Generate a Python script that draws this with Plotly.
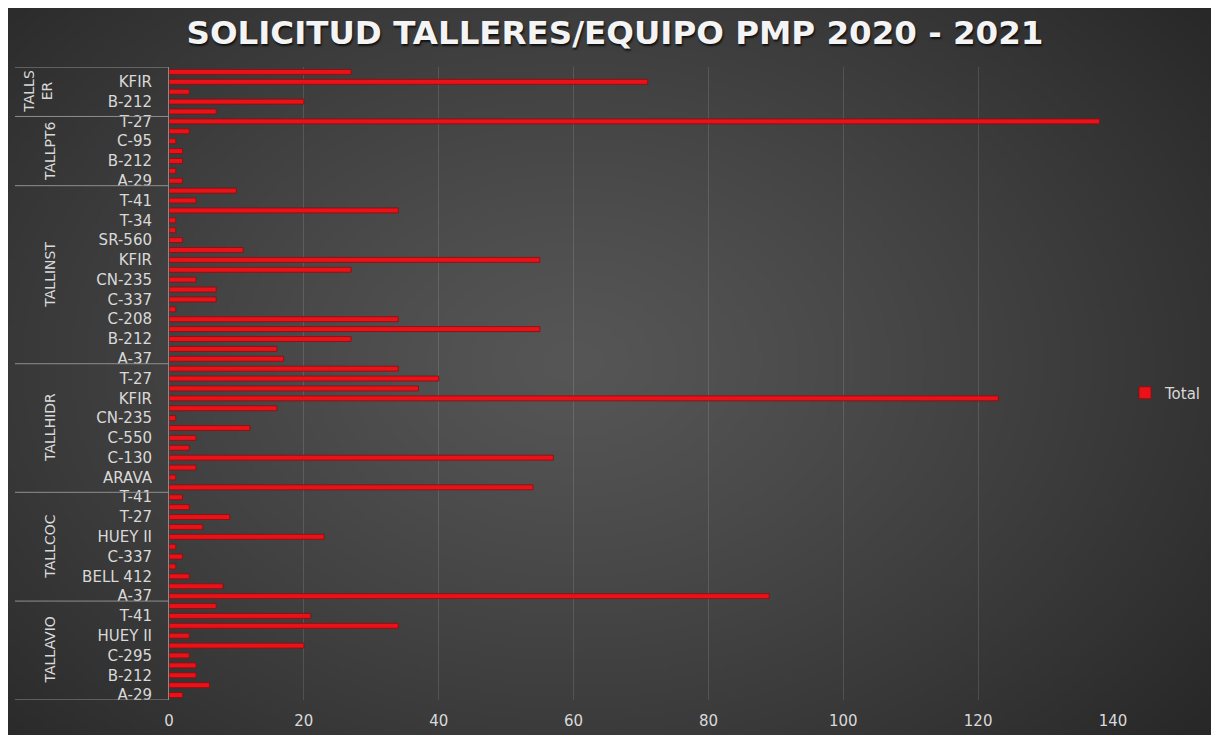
import base64
import struct
import zlib

import numpy as np
import plotly.graph_objects as go

# Groups from bottom to top (Excel pivot order), equipment alphabetical bottom -> top
GROUPS = ["TALLAVIO", "TALLCOC", "TALLHIDR", "TALLINST", "TALLPT6", "TALLSER"]
GROUP_TITLES = ["TALLAVIO", "TALLCOC", "TALLHIDR", "TALLINST", "TALLPT6", "TALLS<br>ER"]

TALLAVIO_EQUIPOS = ["A-29", "A-37", "B-212", "C-130", "C-295", "C-337",
                    "HUEY II", "KFIR", "T-41", "UH-60"]
TALLAVIO_TOTAL = [2, 6, 4, 4, 3, 20, 3, 34, 21, 7]

TALLCOC_EQUIPOS = ["A-37", "B-212", "BELL 412", "C-130", "C-337", "CN-235",
                   "HUEY II", "KFIR", "T-27", "T-34", "T-41"]
TALLCOC_TOTAL = [89, 8, 3, 1, 2, 1, 23, 5, 9, 3, 2]

TALLHIDR_EQUIPOS = ["A-37", "ARAVA", "B-212", "C-130", "C-295", "C-550", "C-95",
                    "CN-235", "HUEY II", "KFIR", "SR-560", "T-27", "T-41"]
TALLHIDR_TOTAL = [54, 1, 4, 57, 3, 4, 12, 1, 16, 123, 37, 40, 34]

TALLINST_EQUIPOS = ["A-37", "ARAVA", "B-212", "C-130", "C-208", "C-295", "C-337",
                    "C-550", "CN-235", "HUEY II", "KFIR", "KING AIR", "SR-560",
                    "T-27", "T-34", "T-37", "T-41", "UH-60"]
TALLINST_TOTAL = [17, 16, 27, 55, 34, 1, 7, 7, 4, 27, 55, 11, 2, 1, 1, 34, 4, 10]

TALLPT6_EQUIPOS = ["A-29", "A-37", "B-212", "C-208", "C-95", "KING AIR", "T-27"]
TALLPT6_TOTAL = [2, 1, 2, 2, 1, 3, 138]

TALLSER_EQUIPOS = ["A-37", "B-212", "C-130", "KFIR", "T-27"]
TALLSER_TOTAL = [7, 20, 3, 71, 27]

GROUP_EQUIPOS = [TALLAVIO_EQUIPOS, TALLCOC_EQUIPOS, TALLHIDR_EQUIPOS,
                 TALLINST_EQUIPOS, TALLPT6_EQUIPOS, TALLSER_EQUIPOS]
GROUP_TOTALS = [TALLAVIO_TOTAL, TALLCOC_TOTAL, TALLHIDR_TOTAL,
                TALLINST_TOTAL, TALLPT6_TOTAL, TALLSER_TOTAL]

X_TICKS = [0, 20, 40, 60, 80, 100, 120, 140]

W, H = 1219, 735
# the page puts the figure 8px in from the top-left corner, so lay out in
# figure pixels = reference pixels - 8
OFF = 8
PLOT_L, PLOT_R, PLOT_T, PLOT_B = 169 - OFF, 1113 - OFF, 67 - OFF, 700 - OFF
LABEL_COLOR = "#d9d9d9"
FONT = "DejaVu Sans"


def _background_png(w=305, h=184):
    """Dark radial gradient like the Excel chart style, as a data URI."""
    yy, xx = np.mgrid[0:h, 0:w]
    cx, cy = 0.46 * w, 0.48 * h
    d = np.sqrt(((xx - cx) / (0.66 * w)) ** 2 + ((yy - cy) / (0.78 * h)) ** 2)
    t = np.clip(d, 0, 1)
    v = 86 - (86 - 40) * t ** 1.2
    img = np.repeat(v[..., None], 3, axis=2).astype(np.uint8)
    raw = b"".join(b"\x00" + img[r].tobytes() for r in range(h))

    def chunk(tag, data):
        return (struct.pack(">I", len(data)) + tag + data
                + struct.pack(">I", zlib.crc32(tag + data) & 0xFFFFFFFF))

    png = (b"\x89PNG\r\n\x1a\n"
           + chunk(b"IHDR", struct.pack(">IIBBBBB", w, h, 8, 2, 0, 0, 0))
           + chunk(b"IDAT", zlib.compress(raw, 9))
           + chunk(b"IEND", b""))
    return "data:image/png;base64," + base64.b64encode(png).decode()


# flatten groups into rows
ys, xs, names, custom = [], [], [], []
group_bounds = []
i = 0
for g, eq, tot in zip(GROUPS, GROUP_EQUIPOS, GROUP_TOTALS):
    start = i
    for name, val in zip(eq, tot):
        ys.append(i)
        xs.append(val)
        names.append(name)
        custom.append([g, name])
        i += 1
    group_bounds.append((start, i - 1))
n_rows = i

pw = PLOT_R - PLOT_L
ph = PLOT_B - PLOT_T


def px_x(px):
    """reference pixel x -> paper coordinate"""
    return (px - OFF - PLOT_L) / pw


def px_y(py):
    """reference pixel y -> paper coordinate"""
    return (PLOT_B - (py - OFF)) / ph


fig = go.Figure()
fig.add_trace(go.Bar(
    x=xs, y=ys,
    orientation="h",
    width=0.5,
    marker=dict(color="#ea1219", line=dict(color="#8e0b0b", width=0.8)),
    customdata=custom,
    hovertemplate="%{customdata[0]} / %{customdata[1]}<br>Total: %{x}<extra></extra>",
    name="Total",
    showlegend=True,
))

# group divider lines and group labels on the left
line_x0 = px_x(15)
for k, (s, e) in enumerate(group_bounds):
    fig.add_shape(type="line", xref="paper", yref="y",
                  x0=line_x0, x1=0, y0=s - 0.5, y1=s - 0.5,
                  line=dict(color="#8f8f8f", width=1))
    fig.add_annotation(xref="paper", yref="y", xanchor="center", yanchor="middle",
                       x=px_x(38 if "<br>" in GROUP_TITLES[k] else 50),
                       y=(s + e) / 2,
                       text=GROUP_TITLES[k], textangle=-90, showarrow=False,
                       font=dict(family=FONT, size=14, color=LABEL_COLOR))
fig.add_shape(type="line", xref="paper", yref="y",
              x0=line_x0, x1=0, y0=n_rows - 0.5, y1=n_rows - 0.5,
              line=dict(color="#8f8f8f", width=1))

fig.add_layout_image(dict(
    source=_background_png(),
    xref="paper", yref="paper",
    x=px_x(7), y=px_y(4),
    sizex=(W + OFF) / pw, sizey=(H + OFF) / ph,
    xanchor="left", yanchor="top",
    sizing="stretch", layer="below",
))

fig.update_layout(
    width=W, height=H,
    margin=dict(l=PLOT_L, r=W - PLOT_R, t=PLOT_T, b=H - PLOT_B, pad=0),
    paper_bgcolor="white",
    plot_bgcolor="rgba(255,255,255,0.05)",
    title=dict(
        text="<b>SOLICITUD TALLERES/EQUIPO PMP 2020 - 2021</b>",
        x=(615 - OFF) / W, xref="container", xanchor="center",
        y=1 - (33 - OFF) / H, yref="container", yanchor="middle",
        font=dict(family=FONT, size=32.5, color="#f4f4f4",
                  shadow="1px 2px 2px #111"),
    ),
    xaxis=dict(
        range=[0, 140], tickvals=X_TICKS,
        tickfont=dict(family=FONT, size=15, color=LABEL_COLOR),
        showgrid=True, gridcolor="rgba(255,255,255,0.12)", gridwidth=1,
        zeroline=False, showline=False,
        ticks="outside", ticklen=7, tickcolor="rgba(0,0,0,0)",
    ),
    yaxis=dict(
        range=[-0.5, n_rows - 0.5],
        tickvals=ys[::2], ticktext=names[::2],
        tickfont=dict(family=FONT, size=15, color=LABEL_COLOR),
        ticks="outside", ticklen=13, tickcolor="rgba(0,0,0,0)",
        showgrid=False, zeroline=False,
        showline=True, linecolor="#8a8a8a", linewidth=1,
    ),
    legend=dict(
        x=px_x(1125), xanchor="left",
        y=px_y(393), yanchor="middle",
        font=dict(family=FONT, size=15, color=LABEL_COLOR),
        bgcolor="rgba(0,0,0,0)", itemwidth=30,
    ),
    bargap=0.5,
    showlegend=True,
)

fig.write_html("out.html")
